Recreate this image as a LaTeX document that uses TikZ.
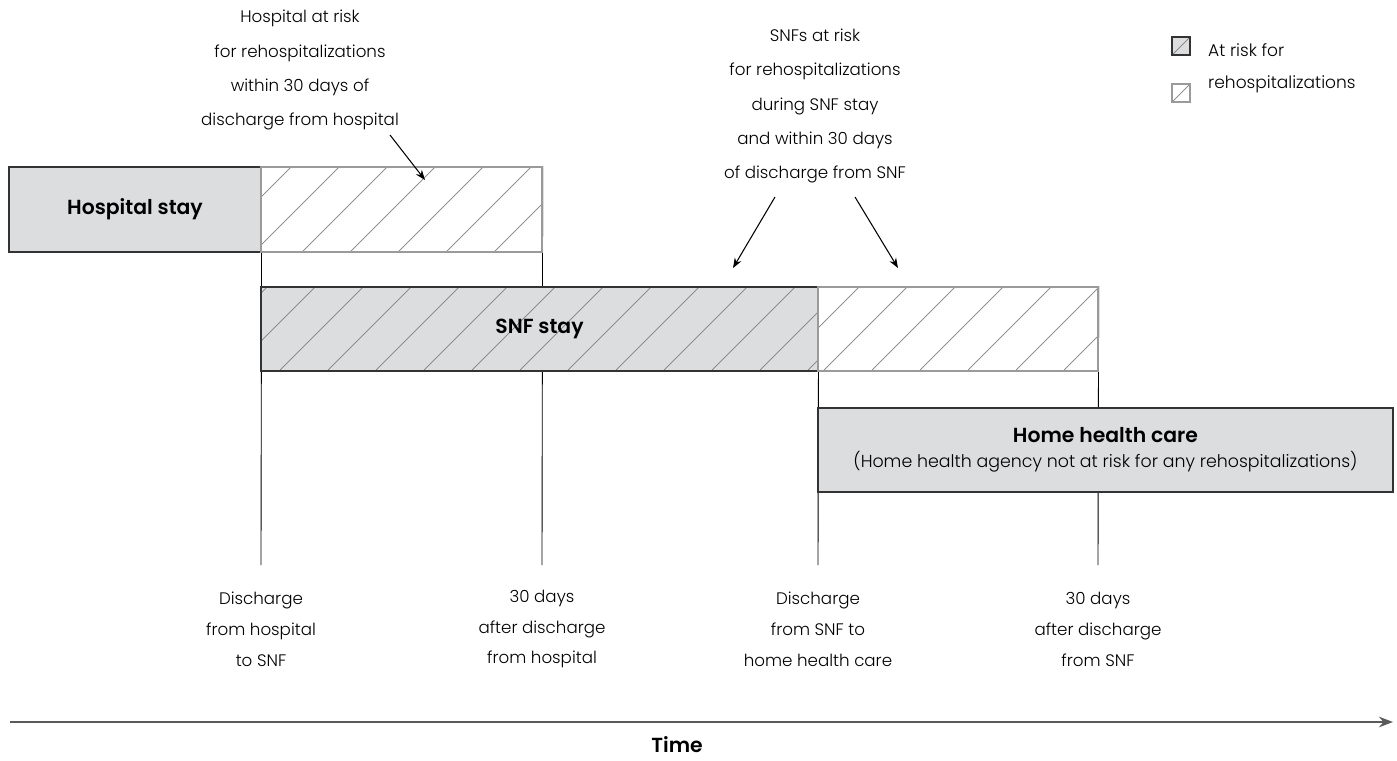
\documentclass[tikz,border=0pt]{standalone}
\usepackage{fontspec}
\setmainfont{Poppins Light}[BoldFont=Poppins SemiBold]
\usetikzlibrary{positioning,calc,arrows.meta}
\definecolor{boxgray}{HTML}{DCDDDF}
\definecolor{rimgray}{HTML}{9A9A9A}
\definecolor{axisgray}{HTML}{5A5A5A}
\pgfdeclarelayer{background}
\pgfsetlayers{background,main}

\begin{document}
\begin{tikzpicture}[%
    x=0.02cm,
    y=-0.02cm,
    >=Stealth,
    stay/.style={%
      rectangle,
      fill=boxgray,
      draw=black!80,
      line width=0.8pt,
      inner sep=0pt,
      font=\bfseries\fontsize{11.6}{14}\selectfont
    },
    risk/.style={%
      rectangle,
      fill=white,
      draw=rimgray,
      line width=0.8pt,
      inner sep=0pt
    },
    hatched/.style={%
      path picture={%
        \foreach \k in {-3,...,13}
          \draw[gray,line width=0.4pt]
            ($(path picture bounding box.south west)+(#1+48*\k,0)$) -- ++(100,-100);
      }
    },
    marker/.style={black, line width=0.5pt},
    caption/.style={align=center, font=\fontsize{9.5}{17.6}\selectfont},
    note/.style={align=center, font=\fontsize{9.5}{19.4}\selectfont},
    pointer/.style={->, line width=0.6pt},
    keybox/.style={%
      rectangle,
      minimum width=0.36cm,
      minimum height=0.36cm,
      inner sep=0pt,
      path picture={\draw[gray,line width=0.4pt]
        (path picture bounding box.south west) -- (path picture bounding box.north east);}
    }
  ]
    \useasboundingbox (0,0) rectangle (1397,761);

    % stays and periods at risk
    \node[stay, minimum width=5.04cm, minimum height=1.7cm] (hosp) at (135,209.5) {Hospital stay};
    \node[risk, hatched=-7, minimum width=5.62cm, minimum height=1.7cm] (hrisk) at (401.5,209.5) {};
    \node[stay, hatched=18, minimum width=11.14cm, minimum height=1.68cm] (snf) at (539.5,329) {SNF stay};
    \node[risk, hatched=53, minimum width=5.6cm, minimum height=1.68cm] (srisk) at (958,329) {};
    \node[stay, align=center, minimum width=11.5cm, minimum height=1.68cm] (home) at (1105.5,450)
      {\fontsize{11.6}{20}\selectfont Home health care\\
       {\mdseries\fontsize{9.9}{20}\selectfont (Home health agency not at risk for any rehospitalizations)}};

    % time marks
    \coordinate (m1) at (261,565);
    \coordinate (m2) at (542,565);
    \coordinate (m3) at (818,565);
    \coordinate (m4) at (1098,565);
    \begin{pgfonlayer}{background}
      \draw[marker] (hosp.north east) -- (m1);
      \draw[marker] (hrisk.north east) -- (m2);
      \draw[marker] (snf.north east) -- (m3);
      \draw[marker] (srisk.north east) -- (m4);
    \end{pgfonlayer}

    \node[caption] (lab1) at (261,629) {Discharge\\from hospital\\to SNF};
    \node[caption] (lab2) at (542,629) {30 days\\after discharge\\from hospital};
    \node[caption] (lab3) at (818,629) {Discharge\\from SNF to\\home health care};
    \node[caption] (lab4) at (1098,629) {30 days\\after discharge\\from SNF};

    % time axis
    \coordinate (t0) at (10,722);
    \coordinate (t1) at (1393,722);
    \draw[axisgray, line width=1.2pt, -{Stealth[length=8pt,width=6pt]}] (t0) -- (t1);
    \node[font=\bfseries\fontsize{11.6}{14}\selectfont] (time) at (677,745) {Time};

    % notes
    \node[note] (note1) at (300,70) {Hospital at risk\\for rehospitalizations\\within 30 days of\\discharge from hospital};
    \node[note] (note2) at (815,106) {SNFs at risk\\for rehospitalizations\\during SNF stay\\and within 30 days\\of discharge from SNF};
    \coordinate (p1) at (390,135);
    \coordinate (q1) at (425,180);
    \coordinate (p2) at (775,197);
    \coordinate (q2) at (733,268);
    \coordinate (p3) at (855,197);
    \coordinate (q3) at (898,268);
    \path (p1) edge[pointer] (q1)
          (p2) edge[pointer] (q2)
          (p3) edge[pointer] (q3);

    % key
    \node[keybox, fill=boxgray, draw=black!80, line width=0.8pt] (key1) at (1181,46) {};
    \node[keybox, fill=white, draw=rimgray, line width=0.8pt] (key2) at (1181,93) {};
    \node[align=left, anchor=west, font=\fontsize{9.7}{18.2}\selectfont] (keytext) at (1202,68) {At risk for\\rehospitalizations};
\end{tikzpicture}
\end{document}
